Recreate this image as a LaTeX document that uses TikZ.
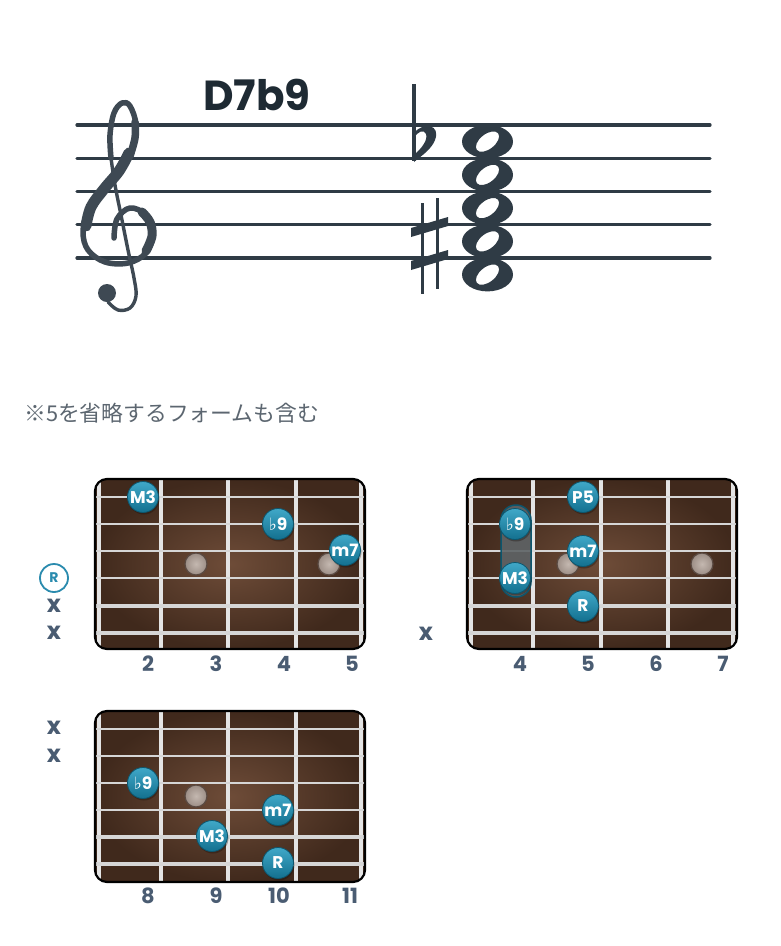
\documentclass[tikz,border=0pt]{standalone}
\usepackage{fontspec}
\setmainfont{Poppins}
\newfontfamily\jpfont{Noto Sans CJK JP}
\newfontfamily\symfont{DejaVu Sans}
\definecolor{ink}{HTML}{2F3B45}
\definecolor{titlec}{HTML}{1E2A33}
\definecolor{clefc}{HTML}{3E4953}
\definecolor{mkTop}{HTML}{40A8C8}
\definecolor{mkBot}{HTML}{13708F}
\definecolor{mkEdge}{HTML}{0C566E}
\definecolor{rootc}{HTML}{2A8BAE}
\definecolor{brdIn}{HTML}{6E4C38}
\definecolor{brdOut}{HTML}{40291C}
\definecolor{fretc}{HTML}{E4E4E4}
\definecolor{strc}{HTML}{D6D6D6}
\definecolor{dotIn}{HTML}{C4B8B0}
\definecolor{dotOut}{HTML}{9C8E86}
\definecolor{dotEdge}{HTML}{5A4A42}
\definecolor{lab}{HTML}{4A5C72}
\definecolor{jpc}{HTML}{5C6670}
\definecolor{capFill}{HTML}{5E6366}
\definecolor{shadowc}{HTML}{1A0F0A}
\usetikzlibrary{shapes.misc}
\tikzset{
  staffline/.style={draw=ink, line width=3.2pt, line cap=round},
  clefstroke/.style={draw=clefc, line cap=round, line join=round},
  board/.style={draw=black, line width=2.2pt, rounded corners=12pt},
  fretline/.style={draw=fretc, line width=4pt},
  strthin/.style={draw=strc, line width=2pt},
  strthick/.style={draw=strc, line width=3.2pt},
  tone/.style={circle, minimum size=31pt, inner sep=0pt, top color=mkTop, bottom color=mkBot,
    draw=mkEdge, line width=0.8pt, text=white, font=\fontsize{17}{17}\selectfont\bfseries},
  inlay/.style={circle, minimum size=22pt, inner sep=0pt, inner color=dotIn, outer color=dotOut,
    draw=dotEdge, line width=1.2pt},
  mute/.style={text=lab, font=\fontsize{24}{24}\selectfont\bfseries, inner sep=0pt},
  fretnum/.style={text=lab, font=\fontsize{21}{21}\selectfont\bfseries, inner sep=0pt},
  rootmark/.style={circle, draw=rootc, line width=1.8pt, minimum size=28pt, inner sep=0pt,
    text=rootc, font=\fontsize{14}{14}\selectfont\bfseries},
  capsule/.style={rectangle, rounded corners=15pt, minimum width=30pt, minimum height=92pt,
    inner sep=0pt, fill=capFill, fill opacity=0.9, draw=mkEdge, line width=1.5pt},
}
\newcommand\flatsym{{\symfont\fontsize{17}{17}\selectfont ♭}}
\begin{document}
\begin{tikzpicture}[x=1pt,y=-1pt]
\useasboundingbox (0,0) rectangle (780,946);
\fill[white] (0,0) rectangle (780,946);

% ---------- staff ----------
\foreach \y in {125,158.25,191.5,224.75,258} \draw[staffline] (77,\y) -- (710,\y);

% treble clef
\draw[clefstroke, line width=5.5pt] plot[smooth, tension=0.6] coordinates {(114,238) (117,219) (130,208) (146,215) (153,234) (146,253) (128,263) (105,262) (88,250) (83,232) (88,212) (103,190) (120,170) (132,148) (136,125) (130,106) (122,103) (114,113) (110,135) (111,158)};
\draw[clefstroke, line width=11pt] plot[smooth, tension=0.6] coordinates {(86,226) (91,207) (104,189) (119,171) (129,153)};
\draw[clefstroke, line width=7.5pt] plot[smooth, tension=0.6] coordinates {(130,156) (135,138) (135,122)};
\draw[clefstroke, line width=9pt] plot[smooth, tension=0.6] coordinates {(142,212) (150,222) (152,236) (146,251)};
\draw[clefstroke, line width=3.4pt] plot[smooth, tension=0.6] coordinates {(111,158) (115,185) (121,215) (128,250) (134,278) (136,296) (130,308) (118,310) (108,302)};
\fill[clefc] (107,293) circle (9pt);

% flat
\draw[ink, line width=3.4pt] (414,84) -- (414,161);
\fill[ink] (414,133) .. controls (424,121) and (441,125) .. (435,140) .. controls (431,150) and (421,156) .. (414,162) -- (414,155) .. controls (422,148) and (428,140) .. (426,134) .. controls (424,129) and (418,131) .. (414,138) -- cycle;

% sharp
\draw[ink, line width=3pt] (422,203) -- (422,294);
\draw[ink, line width=3pt] (437,198) -- (437,289);
\fill[ink] (411,237) -- (448,226) -- (448,217) -- (411,228) -- cycle;
\fill[ink] (411,270) -- (448,259) -- (448,250) -- (411,261) -- cycle;

% whole notes
\foreach \c in {141.6,174.9,208.1,241.4,274.6}
  \fill[ink, even odd rule] (487.5,\c) ellipse (25.5 and 16.8)
     [rotate around={38:(487.5,\c)}] (487.5,\c) ellipse (13.5 and 7.5);

% title
\node[text=titlec, font=\fontsize{42}{42}\selectfont\bfseries, anchor=base west, inner sep=0pt] (title) at (203,110) {D7b9};

% note
\node[text=jpc, font=\jpfont\fontsize{21.8}{21.8}\selectfont, anchor=west, inner sep=0pt] (note) at (24,413) {※5を省略するフォームも含む};

% ---------- board 1 ----------
\begin{scope}
  \clip[rounded corners=12pt] (95,479) rectangle (365,649);
  \shade[inner color=brdIn, outer color=brdOut] (95,479) rectangle (365,649);
  \foreach \x in {99,161,228,296,361} \draw[fretline] (\x,479) -- (\x,649);
  \foreach \y in {497,524,551,578} \draw[strthin] (95,\y) -- (365,\y);
  \foreach \y in {606,633} \draw[strthick] (95,\y) -- (365,\y);
\end{scope}
\draw[board] (95,479) rectangle (365,649);
\node[inlay] (b1d1) at (196,564) {};
\node[inlay] (b1d2) at (329,564) {};
\foreach \p in {(143,497),(278,524),(345,550)} \fill[shadowc, opacity=0.35] \p ++(1,2) circle (15.5pt);
\node[tone] (b1m3) at (143,497) {M3};
\node[tone] (b1b9) at (278,524) {\flatsym9};
\node[tone] (b1m7) at (345,550) {m7};
\node[rootmark] (b1r) at (54,578) {R};
\node[mute] (b1x5) at (54,606) {x};
\node[mute] (b1x6) at (54,633) {x};
\node[fretnum] (b1n2) at (148,664) {2};
\node[fretnum] (b1n3) at (216,664) {3};
\node[fretnum] (b1n4) at (284,664) {4};
\node[fretnum] (b1n5) at (352,664) {5};

% ---------- board 2 ----------
\begin{scope}
  \clip[rounded corners=12pt] (467,479) rectangle (737,649);
  \shade[inner color=brdIn, outer color=brdOut] (467,479) rectangle (737,649);
  \foreach \x in {471,533,601,668,733} \draw[fretline] (\x,479) -- (\x,649);
  \foreach \y in {497,524,551,578} \draw[strthin] (467,\y) -- (737,\y);
  \foreach \y in {606,633} \draw[strthick] (467,\y) -- (737,\y);
\end{scope}
\draw[board] (467,479) rectangle (737,649);
\node[inlay] (b2d1) at (568,564) {};
\node[inlay] (b2d2) at (702,564) {};
\node[capsule] (b2cap) at (516,551) {};
\foreach \p in {(583,497),(515,524),(583,551),(515,578),(583,606)} \fill[shadowc, opacity=0.35] \p ++(1,2) circle (15.5pt);
\node[tone] (b2p5) at (583,497) {P5};
\node[tone] (b2b9) at (515,524) {\flatsym9};
\node[tone] (b2m7) at (583,551) {m7};
\node[tone] (b2m3) at (515,578) {M3};
\node[tone] (b2r) at (583,606) {R};
\node[mute] (b2x6) at (426,634) {x};
\node[fretnum] (b2n4) at (520,664) {4};
\node[fretnum] (b2n5) at (588,664) {5};
\node[fretnum] (b2n6) at (656,664) {6};
\node[fretnum] (b2n7) at (723,664) {7};

% ---------- board 3 ----------
\begin{scope}
  \clip[rounded corners=12pt] (95,711) rectangle (365,882);
  \shade[inner color=brdIn, outer color=brdOut] (95,711) rectangle (365,882);
  \foreach \x in {99,161,228,296,361} \draw[fretline] (\x,711) -- (\x,882);
  \foreach \y in {729,756,783,810} \draw[strthin] (95,\y) -- (365,\y);
  \foreach \y in {837,864} \draw[strthick] (95,\y) -- (365,\y);
\end{scope}
\draw[board] (95,711) rectangle (365,882);
\node[inlay] (b3d1) at (196,796) {};
\foreach \p in {(143,783),(278,810),(212,836),(278,863)} \fill[shadowc, opacity=0.35] \p ++(1,2) circle (15.5pt);
\node[tone] (b3b9) at (143,783) {\flatsym9};
\node[tone] (b3m7) at (278,810) {m7};
\node[tone] (b3m3) at (212,836) {M3};
\node[tone] (b3r) at (278,863) {R};
\node[mute] (b3x1) at (54,728) {x};
\node[mute] (b3x2) at (54,756) {x};
\node[fretnum] (b3n8) at (148,896) {8};
\node[fretnum] (b3n9) at (216,896) {9};
\node[fretnum] (b3n10) at (279,896) {10};
\node[fretnum] (b3n11) at (350,896) {11};
\end{tikzpicture}
\end{document}
